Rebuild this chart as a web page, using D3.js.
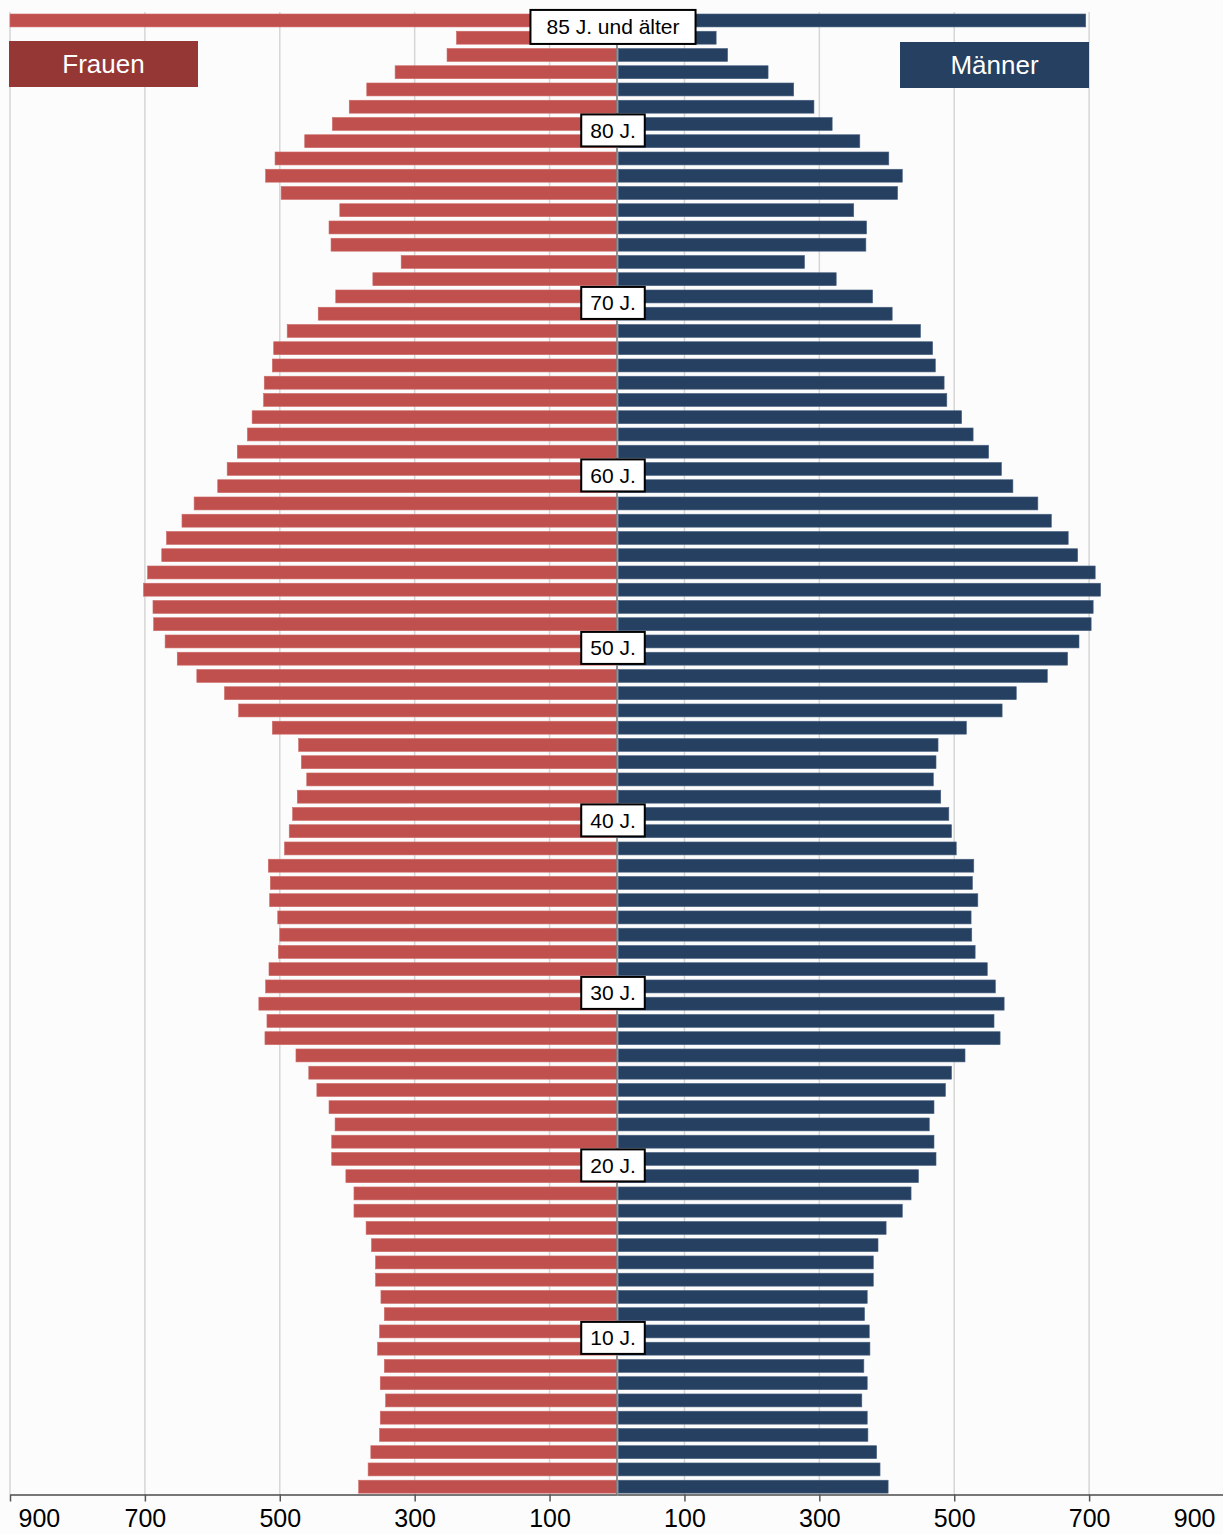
<!DOCTYPE html>
<html lang="de">
<head>
  <meta charset="utf-8" />
  <title>Bevölkerungspyramide</title>
  <script src="https://cdn.jsdelivr.net/npm/d3@7"></script>
  <style>
body{
  margin: 0;
  background: #fcfcfc;
}
svg{
  display: block;
  font-family: "Liberation Sans", Arial, sans-serif;
}
  </style>
</head>
<body>
  <svg id="chart"></svg>
  <script>
  // ages 0 .. 85 (85 = "85 J. und älter")
  const ages = d3.range(0, 86);

  // Frauen, index = age
  const frauen = [
    383, 369, 365, 352, 351, 343, 351, 345, 355, 352,
    345, 350, 358, 358, 364, 372, 390, 390, 402, 423,
    423, 418, 427, 445, 457, 476, 522, 519, 531, 521,
    516, 502, 500, 503, 515, 514, 517, 493, 486, 481,
    474, 460, 468, 472, 511, 561, 582, 623, 652, 670,
    687, 688, 702, 696, 675, 668, 645, 627, 592, 578,
    563, 548, 541, 524, 523, 511, 509, 489, 443, 417,
    362, 320, 424, 427, 411, 498, 521, 507, 463, 422,
    397, 371, 329, 252, 238, 900
  ];

  // Männer, index = age
  const maenner = [
    402, 390, 385, 372, 371, 363, 371, 366, 375, 374,
    367, 371, 380, 380, 387, 399, 423, 436, 447, 473,
    470, 463, 470, 487, 496, 516, 568, 559, 574, 561,
    549, 531, 526, 525, 535, 527, 529, 503, 496, 492,
    480, 469, 473, 476, 518, 571, 592, 638, 668, 685,
    703, 706, 717, 709, 683, 669, 644, 624, 587, 570,
    551, 528, 511, 489, 485, 472, 468, 450, 408, 379,
    325, 278, 369, 370, 351, 416, 423, 403, 360, 319,
    292, 262, 224, 164, 147, 695
  ];

  const tickValues = [100, 300, 500, 700, 900];
  const ageLabels = [85, 80, 70, 60, 50, 40, 30, 20, 10];
  const ageLabelText = a => a === 85 ? '85 J. und älter' : a + ' J.';

  var width = 1223, height = 1534;
  var cx = 617;

  var svg = d3.select('#chart')
      .attr('width', width)
      .attr('height', height);

  svg.append('rect')
      .attr('width', width)
      .attr('height', height)
      .attr('fill', '#fcfcfc');

  var xF = d3.scaleLinear().domain([0, 900]).range([cx, 10]);
  var xM = d3.scaleLinear().domain([0, 900]).range([cx, 1224]);

  var y = d3.scaleBand()
      .domain(ages.slice().reverse())
      .range([11.84, 1495.3])
      .paddingInner(0.25)
      .paddingOuter(0.125);

  var axisY = 1494.5;

  // gridlines
  var grid = svg.append('g')
      .attr('stroke', '#d6d6d6')
      .attr('stroke-width', 1.5);
  grid.selectAll('line.f')
    .data(tickValues)
    .enter().append('line')
      .attr('x1', d => xF(d)).attr('x2', d => xF(d))
      .attr('y1', 12).attr('y2', axisY);
  grid.selectAll('line.m')
    .data(tickValues)
    .enter().append('line')
      .attr('x1', d => xM(d)).attr('x2', d => xM(d))
      .attr('y1', 12).attr('y2', axisY);

  // bars
  svg.append('g')
      .attr('fill', '#c0504d')
      .attr('stroke', '#cd6b68')
      .attr('stroke-width', 0.6)
    .selectAll('rect')
    .data(ages)
    .enter().append('rect')
      .attr('x', a => xF(Math.min(frauen[a], 900)))
      .attr('y', a => y(a))
      .attr('width', a => cx - 0.7 - xF(Math.min(frauen[a], 900)))
      .attr('height', y.bandwidth());

  svg.append('g')
      .attr('fill', '#264061')
      .attr('stroke', '#4a6282')
      .attr('stroke-width', 0.6)
    .selectAll('rect')
    .data(ages)
    .enter().append('rect')
      .attr('x', cx + 1.3)
      .attr('y', a => y(a))
      .attr('width', a => xM(maenner[a]) - cx - 1.3)
      .attr('height', y.bandwidth());

  // centre line
  svg.append('line')
      .attr('x1', cx).attr('x2', cx)
      .attr('y1', 12).attr('y2', axisY)
      .attr('stroke', '#6f6f6f')
      .attr('stroke-width', 1.5);

  // axes
  var axF = svg.append('g')
      .attr('transform', `translate(0,${axisY})`)
      .call(d3.axisBottom(xF).tickValues(tickValues).tickSize(7).tickSizeOuter(0).tickPadding(8));
  var axM = svg.append('g')
      .attr('transform', `translate(0,${axisY})`)
      .call(d3.axisBottom(xM).tickValues(tickValues).tickSize(7).tickSizeOuter(0).tickPadding(8));

  [axF, axM].forEach(ax => {
    ax.select('.domain').attr('stroke', '#777').attr('stroke-width', 2);
    ax.selectAll('.tick line').attr('stroke', '#555').attr('stroke-width', 1.5);
    ax.selectAll('.tick text')
        .attr('font-family', '"Liberation Sans", Arial, sans-serif')
        .attr('font-size', 25)
        .attr('fill', '#000');
  });
  // keep the outer 900 labels inside the picture
  axF.selectAll('.tick text').filter(d => d === 900).attr('text-anchor', 'start').attr('x', 8);
  axM.selectAll('.tick text').filter(d => d === 900).attr('text-anchor', 'end').attr('x', -9);

  // legend
  var legend = [
    {name: 'Frauen', x: 9, y: 41, fill: '#953735'},
    {name: 'Männer', x: 900, y: 42, fill: '#264061'}
  ];
  var lg = svg.append('g').selectAll('g')
    .data(legend)
    .enter().append('g');
  lg.append('rect')
      .attr('x', d => d.x)
      .attr('y', d => d.y)
      .attr('width', 189)
      .attr('height', 46)
      .attr('fill', d => d.fill);
  lg.append('text')
      .attr('x', d => d.x + 94.5)
      .attr('y', d => d.y + 23)
      .attr('dy', '0.35em')
      .attr('text-anchor', 'middle')
      .attr('fill', '#fff')
      .attr('font-size', 26)
      .text(d => d.name);

  // age labels
  var lab = svg.append('g').selectAll('g')
    .data(ageLabels)
    .enter().append('g')
      .attr('transform', a => {
        var anchor = a === 85 ? 85 : a - 1;
        return `translate(613,${y(anchor) + y.bandwidth()})`;
      });
  var rects = lab.append('rect')
      .attr('fill', '#fff')
      .attr('stroke', '#000')
      .attr('stroke-width', 2);
  var texts = lab.append('text')
      .attr('text-anchor', 'middle')
      .attr('dy', '0.35em')
      .attr('font-size', 21)
      .attr('fill', '#000')
      .text(ageLabelText);
  texts.each(function(a){
    var w = this.getBBox().width;
    var pad = a === 85 ? 16 : 9;
    var h = a === 85 ? 34 : 32;
    d3.select(this.parentNode).select('rect')
        .attr('x', -w / 2 - pad)
        .attr('y', -h / 2)
        .attr('width', w + 2 * pad)
        .attr('height', h);
  });
  </script>
</body>
</html>
